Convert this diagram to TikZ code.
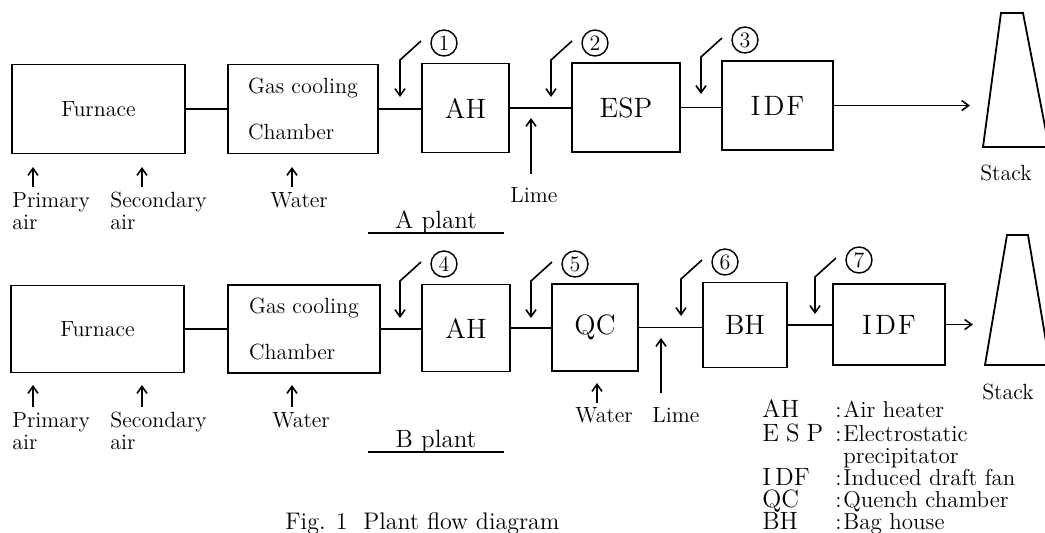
\documentclass[tikz,border=0pt]{standalone}
\usepackage{fontspec}
\usetikzlibrary{arrows.meta}
\tikzset{
unit/.style = {draw, line width=0.9pt, minimum height=44.5pt, inner sep=0pt,
               font=\fontsize{14}{16}\selectfont},
smalltext/.style = {font=\fontsize{11}{11}\selectfont},
twoline/.style = {align=left, font=\fontsize{11}{23}\selectfont},
lab/.style = {smalltext, inner sep=0pt, align=left},
circnum/.style = {circle, draw, line width=0.7pt, minimum size=13pt, inner sep=0pt,
                  font=\fontsize{11}{11}\selectfont},
pipe/.style = {line width=0.9pt},
flow/.style = {line width=0.8pt, -{Straight Barb[length=3.5pt,width=5pt]}},
plantname/.style = {inner sep=0pt, anchor=base, minimum width=68pt,
                    font=\fontsize{12.5}{12.5}\selectfont},
abbr/.style = {inner sep=0pt, anchor=base west, font=\fontsize{12.5}{12.5}\selectfont},
legtext/.style = {inner sep=0pt, anchor=base west, font=\fontsize{11.5}{11.5}\selectfont}
}
\newcommand{\unitbox}[5][]{\node[unit, minimum width=#4, #1] (#2) at (#3) {#5};}
\newcommand{\pipe}[2]{\draw[pipe] (#1.east) -- (#1.east -| #2.west);}
\newcommand{\sampling}[4]{%
  \coordinate (#1a) at (#2+21,#3);
  \coordinate (#1b) at (#2,#3+56);
  \node[circnum] (#1) at (#2+44,#3+2) {#4};
  \draw[flow] (#1a) -- ++(-21,19) -- (#1b);}
\newcommand{\feed}[5][2.5pt]{%
  \coordinate (#2t) at (#3);
  \node[lab, anchor=north west] (#2) at (#4) {#5};
  \draw[flow, shorten <=#1] (#2.north -| #2t) -- (#2t);}
\newcommand{\legendrow}[4]{%
  \node[abbr] (#1) at (762,#2) {#3};
  \node[legtext] (#1c) at (835,#2) {:};
  \node[legtext] (#1d) at (843,#2) {#4};}

\begin{document}
\begin{tikzpicture}[x=0.5pt, y=-0.5pt]
    \useasboundingbox (0,0) rectangle (1045,532);
    \clip (0,0) rectangle (1045,532);
    \fill[white] (0,0) rectangle (1045,532);

    % legend and caption
    \legendrow{lah}{417}{AH}{Air heater}
    \legendrow{lesp}{441}{E\kern3.5pt S\kern3.5pt P}{Electrostatic}
    \node[legtext] (lespb) at (843,463) {precipitator};
    \legendrow{lidf}{485}{I\kern2pt DF}{Induced draft fan}
    \legendrow{lqc}{507}{QC}{Quench chamber}
    \legendrow{lbh}{529}{BH}{Bag house}
    \node[legtext, font=\fontsize{12}{12}\selectfont] (fig) at (285,529) {Fig. 1\ \ Plant flow diagram};

    % A plant
    \unitbox[smalltext]{furnace}{98.5,109}{86.5pt}{Furnace}
    \unitbox[twoline]{gcc}{303,109}{75pt}{Gas cooling\\Chamber}
    \unitbox{ah}{465.5,108}{43.5pt}{AH}
    \unitbox{esp}{626,107.5}{54pt}{ESP}
    \unitbox{idf}{777.5,105.5}{55.5pt}{I\kern1.5pt D\kern1pt F}
    \coordinate (outA) at (970,105);

    \pipe{furnace}{gcc}
    \pipe{gcc}{ah}
    \pipe{ah}{esp}
    \pipe{esp}{idf}
    \draw[flow] (idf.east) -- (idf.east -| outA);
    \draw[pipe] (1001,13) -- (1023,13) -- (1049,147) -- (983,147) -- cycle;
    \node[lab] (stackA) at (1006,173) {Stack};

    \sampling{s1}{400}{41}{1}
    \sampling{s2}{551}{41}{2}
    \sampling{s3}{701}{38}{3}

    \feed{pair}{33,167}{12,192}{Primary\\air}
    \feed{sair}{142,167}{110,192}{Secondary\\air}
    \feed{water}{292,167}{270,192}{Water}
    \feed[6.5pt]{lime}{531,118}{510,187}{Lime}

    \node[plantname] (aplant) at (436,228) {A plant};
    \draw[line width=0.7pt] ([yshift=-2.5pt]aplant.base west) -- ([yshift=-2.5pt]aplant.base east);

    % B plant
    \tikzset{shift={(0,220)}};
    \unitbox[smalltext, minimum height=43.5pt]{furnace}{97.5,109}{86.5pt}{Furnace}
    \unitbox[twoline, minimum height=44pt]{gcc}{304,109}{76pt}{Gas cooling\\Chamber}
    \unitbox[minimum height=43.5pt]{ah}{466,108}{44pt}{AH}
    \unitbox[minimum height=43.5pt]{qc}{595,107.5}{43pt}{QC}
    \unitbox[minimum height=42.5pt]{bh}{745,105}{42pt}{BH}
    \unitbox[minimum height=40.5pt]{idf}{889,104.5}{56pt}{I\kern1.5pt D\kern1pt F}
    \coordinate (outB) at (973,104);

    \pipe{furnace}{gcc}
    \pipe{gcc}{ah}
    \pipe{ah}{qc}
    \pipe{qc}{bh}
    \pipe{bh}{idf}
    \draw[flow] (idf.east) -- (idf.east -| outB);
    \draw[pipe] (1007,15) -- (1028,15) -- (1050,145) -- (985,145) -- cycle;
    \node[lab] (stackB) at (1008,172) {Stack};

    \sampling{s4}{400}{42}{4}
    \sampling{s5}{531}{42}{5}
    \sampling{s6}{681}{40}{6}
    \sampling{s7}{815}{38}{7}

    \feed{pair}{33,165}{12,192}{Primary\\air}
    \feed{sair}{142,165}{110,192}{Secondary\\air}
    \feed{water}{292,165}{272,192}{Water}
    \feed[2pt]{qcwater}{597,163}{575,187}{Water}
    \feed[7pt]{lime}{661,118}{652,187}{Lime}

    \node[plantname] (bplant) at (436,227) {B plant};
    \draw[line width=0.7pt] ([yshift=-2.5pt]bplant.base west) -- ([yshift=-2.5pt]bplant.base east);
\end{tikzpicture}
\end{document}
